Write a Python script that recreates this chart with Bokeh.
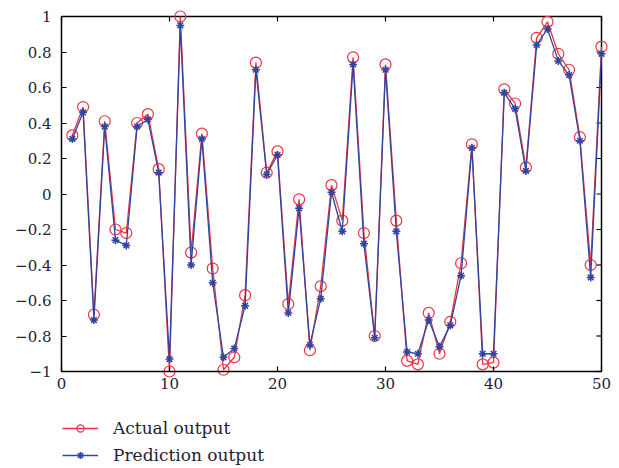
from bokeh.plotting import figure
from bokeh.models import Legend, LegendItem, FixedTicker, Range1d
from bokeh.embed import file_html
from bokeh.resources import INLINE

samples = list(range(1, 51))
actual = [0.33, 0.49, -0.68, 0.41, -0.20, -0.22, 0.40, 0.45, 0.14, -1.00,
          1.00, -0.33, 0.34, -0.42, -0.99, -0.92, -0.57, 0.74, 0.12, 0.24,
          -0.62, -0.03, -0.88, -0.52, 0.05, -0.15, 0.77, -0.22, -0.80, 0.73,
          -0.15, -0.94, -0.96, -0.67, -0.90, -0.72, -0.39, 0.28, -0.96, -0.95,
          0.59, 0.51, 0.15, 0.88, 0.97, 0.79, 0.70, 0.32, -0.40, 0.83]
predicted = [0.31, 0.46, -0.71, 0.38, -0.26, -0.29, 0.38, 0.42, 0.12, -0.93,
             0.95, -0.40, 0.31, -0.50, -0.92, -0.87, -0.63, 0.70, 0.11, 0.22,
             -0.67, -0.08, -0.85, -0.59, 0.01, -0.21, 0.73, -0.28, -0.81, 0.70,
             -0.21, -0.89, -0.90, -0.71, -0.86, -0.74, -0.46, 0.26, -0.90, -0.90,
             0.57, 0.48, 0.13, 0.84, 0.93, 0.75, 0.67, 0.30, -0.47, 0.79]
x_ticks = [0, 10, 20, 30, 40, 50]
y_ticks = [-1, -0.8, -0.6, -0.4, -0.2, 0, 0.2, 0.4, 0.6, 0.8, 1]
y_tick_labels = ["\u22121", "\u22120.8", "\u22120.6", "\u22120.4", "\u22120.2", "0",
                 "0.2", "0.4", "0.6", "0.8", "1"]
x_min, x_max = 0, 50
y_min, y_max = -1, 1

RED = "#ee3340"
BLUE = "#2f45a0"
FONT = "DejaVu Serif"
TXT = "#222233"

W, H = 619, 468
# whole canvas is the frame; the box is drawn by axes at fixed data locations
px_x = 10.8     # pixels per x unit
px_y = 177.5    # pixels per y unit
left_px, top_px = 61, 16
tick_px = 5
x_range = Range1d(x_min - left_px / px_x, x_min + (W - left_px) / px_x)
y_range = Range1d(y_max - (H - top_px) / px_y, y_max + top_px / px_y)

p = figure(width=W, height=H, output_backend="svg", toolbar_location=None,
           x_range=x_range, y_range=y_range,
           min_border_left=0, min_border_right=0, min_border_top=0, min_border_bottom=0)
p.grid.visible = False
p.outline_line_color = None
p.background_fill_color = "white"
p.border_fill_color = "white"

bottom = p.xaxis[0]
left = p.yaxis[0]
bottom.fixed_location = y_min
bottom.bounds = (x_min, x_max)
left.fixed_location = x_min
left.bounds = (y_min, y_max)

for ax in (bottom, left):
    ax.major_tick_in = tick_px
    ax.major_tick_out = 0
    ax.minor_tick_in = 0
    ax.minor_tick_out = 0
    ax.axis_line_width = 1.5
    ax.axis_line_color = "black"
    ax.major_tick_line_width = 1.2
    ax.major_tick_line_color = "black"
    ax.major_label_text_font = FONT
    ax.major_label_text_font_size = "15px"
    ax.major_label_text_color = TXT

bottom.ticker = FixedTicker(ticks=x_ticks)
left.ticker = FixedTicker(ticks=y_ticks)
left.major_label_overrides = {t: l for t, l in zip(y_ticks, y_tick_labels)}
bottom.major_label_standoff = 6
left.major_label_standoff = 10

# top and right edges of the box, with inward ticks at the tick values
p.line([x_min, x_max, x_max], [y_max, y_max, y_min], line_color="black", line_width=1.5)
p.segment(x0=x_ticks, y0=[y_max] * len(x_ticks), x1=x_ticks,
          y1=[y_max - tick_px / px_y] * len(x_ticks), line_color="black", line_width=1.2)
p.segment(x0=[x_max] * len(y_ticks), y0=y_ticks, x1=[x_max - tick_px / px_x] * len(y_ticks),
          y1=y_ticks, line_color="black", line_width=1.2)

l1 = p.line(samples, actual, line_color=RED, line_width=1.3)
s1 = p.scatter(samples, actual, marker="circle", size=11, fill_color=None,
               line_color=RED, line_width=1.2)
l2 = p.line(samples, predicted, line_color=BLUE, line_width=1.3)
s2 = p.scatter(samples, predicted, marker="asterisk", size=8,
               line_color=BLUE, line_width=1.5)

legend = Legend(items=[LegendItem(label="Actual output", renderers=[l1, s1]),
                       LegendItem(label="Prediction output", renderers=[l2, s2])],
                location=(left_px + 1, 3), orientation="vertical",
                label_text_font=FONT, label_text_font_size="17px", label_text_color=TXT,
                glyph_width=36, glyph_height=18, label_height=18, label_standoff=15,
                spacing=7, padding=0, margin=0, border_line_color=None,
                background_fill_alpha=0)
p.add_layout(legend, "center")

open("out.html", "w").write(file_html(p, INLINE))
